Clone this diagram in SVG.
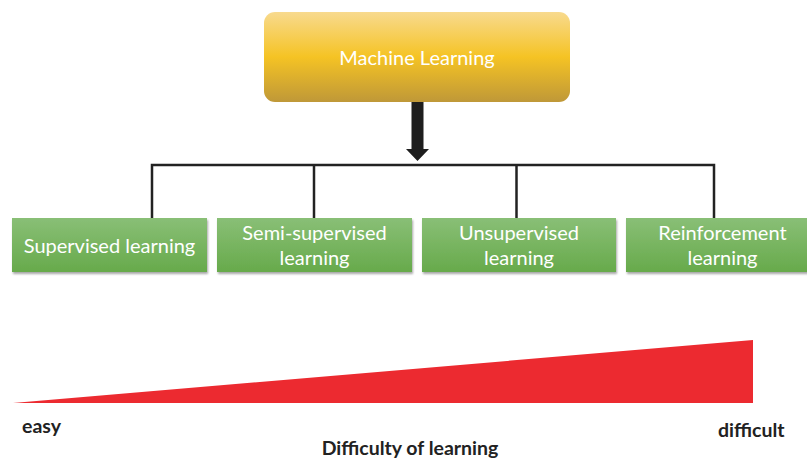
<svg xmlns="http://www.w3.org/2000/svg" width="807" height="458" viewBox="0 0 807 458">
  <style>
    .lbl { font-family: "Lato", "Liberation Sans", sans-serif; font-size: 20px; fill: #ffffff; text-anchor: middle; }
    .axis { font-family: "Lato", "Liberation Sans", sans-serif; font-size: 19.5px; font-weight: bold; fill: #222222; }
    .wire { stroke: #222222; stroke-width: 2.5; fill: none; }
    .leaf { fill: url(#greenGrad); filter: url(#shadow); }
  </style>
  <defs>
    <linearGradient id="goldGrad" x1="0" y1="0" x2="0" y2="1">
      <stop offset="0" stop-color="#f8da8e"/>
      <stop offset="0.5" stop-color="#f5c324"/>
      <stop offset="1" stop-color="#bf9838"/>
    </linearGradient>
    <linearGradient id="greenGrad" x1="0" y1="0" x2="0" y2="1">
      <stop offset="0" stop-color="#89bf76"/>
      <stop offset="1" stop-color="#67aa4b"/>
    </linearGradient>
    <filter id="shadow" x="-5%" y="-10%" width="115%" height="130%">
      <feGaussianBlur in="SourceAlpha" stdDeviation="1.2"/>
      <feOffset dx="1" dy="2" result="b"/>
      <feComponentTransfer><feFuncA type="linear" slope="0.35"/></feComponentTransfer>
      <feMerge><feMergeNode/><feMergeNode in="SourceGraphic"/></feMerge>
    </filter>
  </defs>

  <!-- root node -->
  <g id="machine-learning">
    <rect x="264" y="12" width="306" height="90" rx="11" fill="url(#goldGrad)"/>
    <text class="lbl" x="417" y="65">Machine Learning</text>
  </g>

  <!-- tree connectors -->
  <g id="connectors">
    <polygon points="411.5,102 423.5,102 423.5,149 429,149 417.5,161 406,149 411.5,149" fill="#1e1e1e"/>
    <polyline class="wire" points="152,218 152,165 714,165 714,218"/>
    <line class="wire" x1="314" y1="165" x2="314" y2="218"/>
    <line class="wire" x1="516.5" y1="165" x2="516.5" y2="218"/>
  </g>

  <!-- learning categories -->
  <g id="supervised">
    <rect class="leaf" x="12" y="218" width="195" height="54"/>
    <text class="lbl" x="109.5" y="253">Supervised learning</text>
  </g>
  <g id="semi-supervised">
    <rect class="leaf" x="217" y="218" width="195" height="54"/>
    <text class="lbl" x="314.5" y="240">Semi-supervised</text>
    <text class="lbl" x="314.5" y="265">learning</text>
  </g>
  <g id="unsupervised">
    <rect class="leaf" x="422" y="218" width="194" height="54"/>
    <text class="lbl" x="519" y="240">Unsupervised</text>
    <text class="lbl" x="519" y="265">learning</text>
  </g>
  <g id="reinforcement">
    <rect class="leaf" x="626" y="218" width="195" height="54"/>
    <text class="lbl" x="722.5" y="240">Reinforcement</text>
    <text class="lbl" x="722.5" y="265">learning</text>
  </g>

  <!-- difficulty wedge -->
  <g id="difficulty">
    <polygon points="13,403 753,340 753,403" fill="#ec2a30"/>
    <text class="axis" x="22" y="433">easy</text>
    <text class="axis" x="718" y="437">difficult</text>
    <text class="axis" x="410" y="455" text-anchor="middle">Difficulty of learning</text>
  </g>
</svg>
